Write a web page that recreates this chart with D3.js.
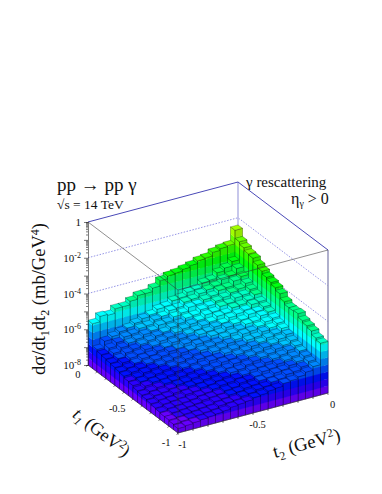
<!DOCTYPE html>
<html>
<head>
<meta http-equiv="Content-Type" content="text/html;charset=utf-8"/>
<title>pp to pp gamma</title>
<script src="https://cdnjs.cloudflare.com/ajax/libs/d3/7.8.5/d3.min.js"></script>
<style>
html, body { margin: 0; padding: 0; background: #fff; }
svg { display: block; }
text { font-family: "Liberation Serif", serif; fill: #111; }
</style>
</head>
<body>
<script>
// log10(dsigma/dt1dt2), one row per t1 bin, first value is t2 nearest 0
var t1Row00 = [-2.4,-3.15,-3.2,-3.3,-3.5,-3.55,-3.7,-3.8,-3.9,-3.95,-4.1,-4.4,-4.6,-4.6,-4.8,-5.0,-5.0,-5.25,-5.2,-5.5];
var t1Row01 = [-2.85,-3.85,-4.1,-4.25,-4.55,-4.6,-4.85,-4.9,-5.1,-5.15,-5.35,-5.4,-5.6,-5.7,-5.85,-6.0,-6.1,-6.25,-6.4,-6.75];
var t1Row02 = [-3.0,-4.05,-4.35,-4.45,-4.7,-4.8,-4.9,-5.1,-5.15,-5.35,-5.4,-5.6,-5.7,-5.9,-5.95,-6.15,-6.2,-6.4,-6.6,-6.85];
var t1Row03 = [-3.15,-4.3,-4.45,-4.7,-4.75,-4.95,-5.05,-5.2,-5.25,-5.45,-5.55,-5.75,-5.8,-6.0,-6.1,-6.25,-6.35,-6.5,-6.7,-6.9];
var t1Row04 = [-3.2,-4.5,-4.7,-4.8,-4.95,-5.05,-5.2,-5.3,-5.5,-5.55,-5.75,-5.85,-6.0,-6.1,-6.25,-6.35,-6.5,-6.6,-6.8,-6.95];
var t1Row05 = [-3.4,-4.65,-4.85,-4.9,-5.1,-5.15,-5.35,-5.4,-5.6,-5.7,-5.85,-5.95,-6.1,-6.2,-6.35,-6.45,-6.6,-6.7,-6.85,-7.0];
var t1Row06 = [-3.55,-4.75,-4.95,-5.1,-5.15,-5.35,-5.4,-5.6,-5.7,-5.85,-5.95,-6.1,-6.2,-6.35,-6.45,-6.6,-6.65,-6.8,-6.95,-7.05];
var t1Row07 = [-3.7,-4.95,-5.0,-5.2,-5.3,-5.4,-5.6,-5.7,-5.85,-5.9,-6.1,-6.2,-6.35,-6.4,-6.55,-6.65,-6.75,-6.9,-7.0,-7.1];
var t1Row08 = [-3.8,-5.05,-5.2,-5.25,-5.45,-5.55,-5.65,-5.85,-5.9,-6.1,-6.15,-6.35,-6.4,-6.55,-6.65,-6.75,-6.85,-6.95,-7.1,-7.2];
var t1Row09 = [-3.9,-5.15,-5.25,-5.45,-5.5,-5.7,-5.8,-5.9,-6.1,-6.2,-6.3,-6.4,-6.55,-6.65,-6.75,-6.85,-6.95,-7.05,-7.15,-7.25];
var t1Row10 = [-4.05,-5.3,-5.4,-5.55,-5.7,-5.75,-5.95,-6.05,-6.2,-6.3,-6.45,-6.5,-6.65,-6.75,-6.85,-6.95,-7.05,-7.1,-7.2,-7.35];
var t1Row11 = [-4.3,-5.4,-5.55,-5.65,-5.85,-5.9,-6.1,-6.2,-6.3,-6.45,-6.5,-6.65,-6.75,-6.85,-6.95,-7.05,-7.1,-7.2,-7.3,-7.4];
var t1Row12 = [-4.45,-5.5,-5.7,-5.8,-5.95,-6.05,-6.2,-6.3,-6.45,-6.5,-6.65,-6.75,-6.85,-6.95,-7.05,-7.1,-7.2,-7.3,-7.35,-7.45];
var t1Row13 = [-4.45,-5.65,-5.8,-5.95,-6.05,-6.2,-6.3,-6.4,-6.5,-6.65,-6.75,-6.85,-6.95,-7.05,-7.1,-7.2,-7.25,-7.35,-7.4,-7.5];
var t1Row14 = [-4.4,-5.8,-5.95,-6.05,-6.2,-6.3,-6.4,-6.5,-6.65,-6.7,-6.85,-6.95,-7.05,-7.1,-7.2,-7.25,-7.35,-7.4,-7.45,-7.55];
var t1Row15 = [-4.6,-5.9,-6.05,-6.2,-6.3,-6.4,-6.55,-6.6,-6.75,-6.85,-6.95,-7.0,-7.1,-7.2,-7.25,-7.35,-7.4,-7.45,-7.5,-7.6];
var t1Row16 = [-4.7,-6.0,-6.2,-6.3,-6.4,-6.55,-6.6,-6.75,-6.85,-6.9,-7.05,-7.1,-7.2,-7.25,-7.3,-7.4,-7.45,-7.5,-7.55,-7.65];
var t1Row17 = [-4.8,-6.1,-6.3,-6.4,-6.55,-6.6,-6.75,-6.8,-6.95,-7.0,-7.1,-7.15,-7.25,-7.3,-7.4,-7.45,-7.5,-7.55,-7.6,-7.65];
var t1Row18 = [-5.0,-6.2,-6.4,-6.55,-6.6,-6.75,-6.8,-6.95,-7.0,-7.1,-7.15,-7.25,-7.3,-7.35,-7.45,-7.5,-7.55,-7.6,-7.65,-7.7];
var t1Row19 = [-5.1,-6.3,-6.5,-6.65,-6.75,-6.8,-6.95,-7.0,-7.1,-7.15,-7.25,-7.3,-7.35,-7.45,-7.5,-7.55,-7.6,-7.65,-7.7,-7.75];
var rows = [t1Row00,t1Row01,t1Row02,t1Row03,t1Row04,t1Row05,t1Row06,t1Row07,t1Row08,t1Row09,
	t1Row10,t1Row11,t1Row12,t1Row13,t1Row14,t1Row15,t1Row16,t1Row17,t1Row18,t1Row19];

var zTickLabels = [[0,"1"],[-2,"10","-2"],[-4,"10","-4"],[-6,"10","-6"],[-8,"10","-8"]];
var t1Ticks = [0,-0.5,-1];
var t2Ticks = [-1,-0.5,0];
var gridDecades = [-2,-4,-6];

var w = 382, h = 494;
var svg = d3.select("body").append("svg").attr("width", w).attr("height", h);

// oblique projection of the box: t1 and t2 each shift x and y, log z only shifts y
var t1X = d3.scaleLinear().domain([0,-1]).range([0,90]);
var t1Y = d3.scaleLinear().domain([0,-1]).range([0,68]);
var t2X = d3.scaleLinear().domain([0,-1]).range([238,88]);
var t2Y = d3.scaleLinear().domain([0,-1]).range([0,40]);
var zH = d3.scaleLinear().domain([-8,0]).range([325,182]);

function px(t1, t2) { return t1X(t1) + t2X(t2); }
function py(t1, t2, z) { return zH(z) + t1Y(t1) + t2Y(t2); }
function pt(t1, t2, z) { return [px(t1,t2), py(t1,t2,z)]; }
function poly(a) { return a.map(function(p) { return p[0].toFixed(2) + "," + p[1].toFixed(2); }).join(" "); }

// 20 contour bands from 10^-8 to 1, purple through green to red
var bandStep = 0.4;
var bandColors = d3.range(20).map(function(k) { return d3.hsl(264 - 14 * k, 1, 0.5).rgb(); });
function shade(c, f) { return d3.rgb(c.r * f, c.g * f, c.b * f) + ""; }
function bandOf(z) { return Math.min(19, Math.max(0, Math.floor((z + 8) / bandStep))); }

// back walls
var walls = svg.append("g");
gridDecades.forEach(function(z) {
	walls.append("polyline").attr("points", poly([pt(0,-1,z), pt(0,0,z), pt(-1,0,z)]))
		.attr("fill", "none").attr("stroke", "#7a7ae0").attr("stroke-width", 0.8).attr("stroke-dasharray", "1.5,1.5");
});
walls.append("line").attr("x1", px(0,0)).attr("x2", px(0,0)).attr("y1", py(0,0,0)).attr("y2", py(0,0,-8))
	.attr("stroke", "#b4b4e4").attr("stroke-width", 1.5);
walls.append("polyline").attr("points", poly([pt(0,-1,0), pt(0,0,0), pt(-1,0,0)]))
	.attr("fill", "none").attr("stroke", "#4a4ab8").attr("stroke-width", 1);
walls.append("line").attr("x1", px(-1,0)).attr("x2", px(-1,0)).attr("y1", py(-1,0,0)).attr("y2", py(-1,0,-8))
	.attr("stroke", "#9c9cc0").attr("stroke-width", 1.6);

// bars, back to front
var n = 20, bw = 1 / n, edge = 0.26;
var bars = [];
rows.forEach(function(row, i) {
	row.forEach(function(z, j) { bars.push({i: i, j: j, z: z}); });
});
var barG = svg.append("g").selectAll("g").data(bars).enter().append("g");

barG.each(function(d) {
	var g = d3.select(this);
	var a1 = -d.i * bw, b1 = -(d.i + 1) * bw;
	var a2 = -d.j * bw, b2 = -(d.j + 1) * bw;
	var top = bandOf(d.z);
	d3.range(top + 1).forEach(function(k) {
		var lo = -8 + k * bandStep, hi = Math.min(d.z, lo + bandStep);
		// side facing lower t2
		g.append("polygon").attr("points", poly([pt(a1,b2,lo), pt(b1,b2,lo), pt(b1,b2,hi), pt(a1,b2,hi)]))
			.attr("fill", shade(bandColors[k], 1)).attr("stroke", shade(bandColors[k], 1)).attr("stroke-width", 0.3);
		// side facing lower t1
		g.append("polygon").attr("points", poly([pt(b1,b2,lo), pt(b1,a2,lo), pt(b1,a2,hi), pt(b1,b2,hi)]))
			.attr("fill", shade(bandColors[k], 0.9)).attr("stroke", shade(bandColors[k], 0.9)).attr("stroke-width", 0.3);
	});
	// outlines and lid
	g.append("polygon").attr("points", poly([pt(a1,b2,-8), pt(b1,b2,-8), pt(b1,b2,d.z), pt(a1,b2,d.z)]))
		.attr("fill", "none").attr("stroke", "#000").attr("stroke-width", edge);
	g.append("polygon").attr("points", poly([pt(b1,b2,-8), pt(b1,a2,-8), pt(b1,a2,d.z), pt(b1,b2,d.z)]))
		.attr("fill", "none").attr("stroke", "#000").attr("stroke-width", edge);
	g.append("polygon").attr("points", poly([pt(a1,a2,d.z), pt(b1,a2,d.z), pt(b1,b2,d.z), pt(a1,b2,d.z)]))
		.attr("fill", bandColors[top] + "").attr("stroke", "#000").attr("stroke-width", edge);
});

// front edges of the box, on top of the bars
var front = svg.append("g").attr("fill", "none").attr("stroke", "#333").attr("stroke-width", 0.55);
front.append("polyline").attr("points", poly([pt(0,-1,0), pt(-1,-1,0), pt(-1,0,0)]));
front.append("line").attr("x1", px(-1,-1)).attr("x2", px(-1,-1)).attr("y1", py(-1,-1,0)).attr("y2", py(-1,-1,-8));
front.append("polyline").attr("points", poly([pt(0,-1,-8), pt(-1,-1,-8), pt(-1,0,-8)]));

// z axis, log
var zLog = d3.scaleLog().domain([1e-8,1]).range([py(0,-1,-8), py(0,-1,0)]);
var zMinor = [];
d3.range(-8,0).forEach(function(e) { d3.range(1,10).forEach(function(m) { zMinor.push(m * Math.pow(10,e)); }); });
var zAxis = d3.axisLeft(zLog).tickValues(zMinor.concat([1])).tickFormat("").tickSizeOuter(0).tickSize(2);
var zG = svg.append("g").attr("transform", "translate(88,0)").call(zAxis);
zG.selectAll("path,line").attr("stroke", "#222").attr("stroke-width", 0.6);
zG.selectAll(".tick line").filter(function(d) { return Math.abs(Math.log10(d) % 1) < 1e-9; }).attr("x2", -4);

zTickLabels.forEach(function(t) {
	var tx = svg.append("text").attr("x", 81).attr("y", zLog(Math.pow(10, t[0])) + 4)
		.attr("text-anchor", "end").attr("font-size", 11).text(t[1]);
	if (t[2]) tx.append("tspan").attr("dy", -4).attr("font-size", 8).text(t[2]);
});

// base axes
function baseTicks(list, fn, dx, dy) {
	list.forEach(function(v) {
		var p = fn(v);
		svg.append("line").attr("x1", p[0]).attr("y1", p[1]).attr("x2", p[0] + dx).attr("y2", p[1] + dy)
			.attr("stroke", "#222").attr("stroke-width", 0.6);
	});
}
var minor = d3.range(0, 11).map(function(k) { return -k / 10; });
baseTicks(minor, function(v) { return pt(v,-1,-8); }, -1.5, 1.5);
baseTicks(minor, function(v) { return pt(-1,v,-8); }, 0, 2);

t1Ticks.forEach(function(v) {
	var p = pt(v,-1,-8);
	svg.append("text").attr("x", p[0] - 7.5).attr("y", p[1] + 13).attr("text-anchor", "end").attr("font-size", 10.5).text(v);
});
t2Ticks.forEach(function(v) {
	var p = pt(-1,v,-8);
	svg.append("text").attr("x", p[0] + 4.5).attr("y", p[1] + 15).attr("text-anchor", "middle").attr("font-size", 10.5).text(v);
});

// titles
svg.append("text").attr("x", 57).attr("y", 191).attr("font-size", 19).text("pp \u2192 pp \u03b3");
svg.append("text").attr("x", 57).attr("y", 209).attr("font-size", 13.5).text("\u221as = 14 TeV");
svg.append("text").attr("x", 246).attr("y", 187).attr("font-size", 15).text("\u03b3 rescattering");
var eta = svg.append("text").attr("x", 291).attr("y", 204).attr("font-size", 16).text("\u03b7");
eta.append("tspan").attr("dy", 3).attr("font-size", 10).text("\u03b3");
eta.append("tspan").attr("dy", -3).text(" > 0");

var yT = svg.append("text").attr("transform", "translate(45,299) rotate(-90)").attr("text-anchor", "middle").attr("font-size", 18.5);
yT.append("tspan").text("d\u03c3/dt");
yT.append("tspan").attr("dy", 4).attr("font-size", 12).text("1");
yT.append("tspan").attr("dy", -4).text("dt");
yT.append("tspan").attr("dy", 4).attr("font-size", 12).text("2");
yT.append("tspan").attr("dy", -4).text(" (mb/GeV");
yT.append("tspan").attr("dy", -6).attr("font-size", 12).text("4");
yT.append("tspan").attr("dy", 6).text(")");

var t1T = svg.append("text").attr("transform", "translate(98,437) rotate(38)").attr("text-anchor", "middle").attr("font-size", 18);
t1T.append("tspan").attr("font-style", "italic").text("t");
t1T.append("tspan").attr("dy", 4).attr("font-size", 12).attr("font-style", "italic").text("1");
t1T.append("tspan").attr("dy", -4).text(" (GeV");
t1T.append("tspan").attr("dy", -6).attr("font-size", 12).text("2");
t1T.append("tspan").attr("dy", 6).text(")");

var t2T = svg.append("text").attr("transform", "translate(308,449) rotate(-15)").attr("text-anchor", "middle").attr("font-size", 18.5);
t2T.append("tspan").text("t");
t2T.append("tspan").attr("dy", 4).attr("font-size", 12).text("2");
t2T.append("tspan").attr("dy", -4).text(" (GeV");
t2T.append("tspan").attr("dy", -6).attr("font-size", 12).text("2");
t2T.append("tspan").attr("dy", 6).text(")");
</script>
</body>
</html>
